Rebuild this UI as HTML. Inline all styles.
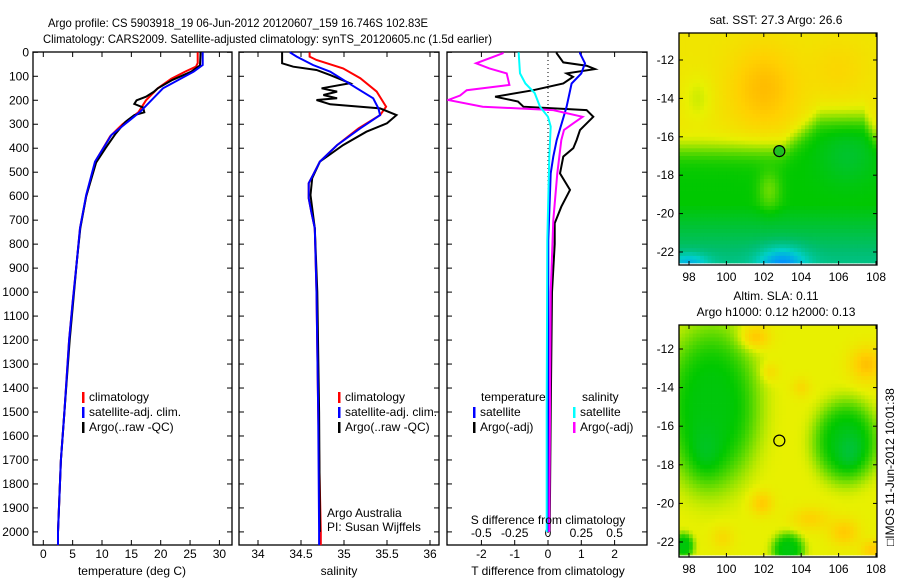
<!DOCTYPE html>
<html><head><meta charset="utf-8"><style>
body{margin:0;background:#fff;}
svg{display:block;font-family:"Liberation Sans",sans-serif;}
text{font-size:12px;fill:#000;}
</style></head><body>
<svg id="fig" width="900" height="580" xmlns="http://www.w3.org/2000/svg">
<rect width="900" height="580" fill="#fff"/>
<text x="48" y="27" font-size="13" textLength="380" lengthAdjust="spacingAndGlyphs">Argo profile: CS 5903918_19 06-Jun-2012 20120607_159 16.746S 102.83E</text>
<text x="43" y="43" font-size="13" textLength="449" lengthAdjust="spacingAndGlyphs">Climatology: CARS2009. Satellite-adjusted climatology: synTS_20120605.nc (1.5d earlier)</text>
<g id="g1"></g>
<g id="g2"></g>
<g id="g3"></g>
<g id="m1"></g>
<g id="m2"></g>
<text x="776" y="24" text-anchor="middle">sat. SST: 27.3 Argo: 26.6</text>
<text x="776" y="300" text-anchor="middle">Altim. SLA: 0.11</text>
<text x="776" y="316" text-anchor="middle">Argo h1000: 0.12 h2000: 0.13</text>
<text transform="translate(894,546) rotate(-90)" x="0" y="0">□IMOS 11-Jun-2012 10:01:38</text>
</svg>
<script>
// ---- data ----
const depthTicks=[0,100,200,300,400,500,600,700,800,900,1000,1100,1200,1300,1400,1500,1600,1700,1800,1900,2000];
const tempTicks=[0,5,10,15,20,25,30];
const salTicks=[34,34.5,35,35.5,36];
const tdiffTicks=[-2,-1,0,1,2];
const sdiffTicks=[-0.5,-0.25,0,0.25,0.5];
const sdiffLabels=["-0.5","-0.25","0","0.25","0.5"];
const lonTicks=[98,100,102,104,106,108];
const latTicks=[-12,-14,-16,-18,-20,-22];
// temperature profiles
const tClimD=[0,45,60,80,110,150,200,250,300,350,450,600,734,873,1040,1200,1500,1700,2000,2055];
const tClimV=[26.3,26.3,26.0,24.2,21.8,19.5,17.5,16.2,13.5,11.4,9.0,7.3,6.25,5.7,5.0,4.4,3.6,3.0,2.5,2.5];
const tSatD=[0,53,81,150,248,345,456,595,734,873,1040,1200,1500,1700,2000,2055];
const tSatV=[27.15,27.15,25.6,20.4,16.5,11.6,8.8,7.3,6.25,5.7,5.0,4.4,3.6,3.0,2.5,2.5];
const tArgoD=[0,55,81,115,150,165,185,200,215,230,250,262,290,340,400,460,600,734,873,1040,1200,1500,1700,2000];
const tArgoV=[26.8,26.7,25.2,22,19.5,18.8,17.5,15.9,15.5,17.0,17.2,15.5,14.0,12.3,10.6,9.0,7.3,6.3,5.7,5.1,4.5,3.6,3.0,2.5];
// salinity profiles
const sClimD=[0,18,32,67,108,164,227,262,317,387,456,512,546,609,665,734,1000,1500,2000,2055];
const sClimV=[34.60,34.60,34.68,34.99,35.19,35.38,35.49,35.42,35.17,34.92,34.72,34.64,34.59,34.59,34.62,34.66,34.68,34.70,34.73,34.73];
const sSatD=[0,18,53,81,150,192,234,262,317,387,456,512,546,609,665,734,1000,1500,2000,2055];
const sSatV=[34.37,34.45,34.64,34.84,35.15,35.34,35.40,35.42,35.19,34.92,34.72,34.64,34.59,34.59,34.62,34.66,34.68,34.70,34.71,34.71];
const sArgoD=[0,46,60,74,95,129,150,164,178,192,199,217,234,262,296,331,387,456,525,595,734,1000,1500,2000];
const sArgoV=[34.28,34.28,34.41,34.68,34.84,35.07,34.74,34.92,34.76,34.92,34.68,34.84,35.42,35.61,35.50,35.26,34.99,34.72,34.63,34.61,34.66,34.69,34.71,34.72];
// differences
const dTSatD=[0,4,46,88,130,227,296,366,435,505,783,1200,2000];
const dTSatV=[0.96,0.96,1.11,1.0,0.71,0.56,0.41,0.26,0.16,0.08,0.01,0.01,0.0];
const dTArgoD=[0,4,42,56,70,88,102,130,158,185,205,227,241,269,324,366,400,435,505,574,644,713,800,1000,1500,2000];
const dTArgoV=[0.26,0.26,0.46,1.16,1.41,0.56,0.75,0.46,-0.44,-1.59,-0.9,-0.74,1.16,1.36,0.96,0.86,0.76,0.46,0.36,0.66,0.4,0.2,0.2,0.12,0.08,0.05];
const dSSatD=[0,4,88,130,170,227,269,310,435,783,1500,2000];
const dSSatV=[-0.22,-0.22,-0.21,-0.17,-0.10,-0.06,0.0,0.02,0.01,-0.005,-0.01,-0.01];
const dSArgoD=[0,4,46,67,88,136,158,180,199,227,241,269,296,324,366,505,700,1000,2000];
const dSArgoV=[-0.34,-0.34,-0.54,-0.44,-0.31,-0.29,-0.61,-0.66,-0.75,-0.49,0.04,0.26,0.19,0.12,0.10,0.07,0.04,0.02,0.01];
// argo location
const argoLon=102.83, argoLat=-16.746;

const NS="http://www.w3.org/2000/svg";
function mk(p,tag,at,txt){const e=document.createElementNS(NS,tag);for(const k in at)e.setAttribute(k,at[k]);if(txt!==undefined)e.textContent=txt;p.appendChild(e);return e;}
const Y0=52.3,YS=0.2398;
const yD=d=>Y0+d*YS;
const TOP=52,BOT=545;

function panel(g,x0,x1,leftLabels){
  const r=mk(g,'rect',{x:x0,y:TOP,width:x1-x0,height:BOT-TOP,fill:'none',stroke:'#000','stroke-width':1.3});
  
  
  depthTicks.forEach(d=>{const y=yD(d);
    mk(g,'line',{x1:x0,x2:x0+5,y1:y,y2:y,stroke:'#000'});
    mk(g,'line',{x1:x1-5,x2:x1,y1:y,y2:y,stroke:'#000'});
    if(leftLabels){const t=mk(g,'text',{x:x0-4,y:y+4,'text-anchor':'end'},String(d));
      
      }
  });
}
function xticks(g,vals,labels,fx,ly){
  vals.forEach((v,i)=>{const x=fx(v);
    mk(g,'line',{x1:x,x2:x,y1:BOT,y2:BOT-5,stroke:'#000'});
    mk(g,'line',{x1:x,x2:x,y1:TOP,y2:TOP+5,stroke:'#000'});
    if(ly!==null){const t=mk(g,'text',{x:x,y:ly,'text-anchor':'middle'},labels[i]);
      
      }
  });
}
function line(g,D,V,fx,col,name,w){
  const pts=D.map((d,i)=>fx(V[i]).toFixed(1)+','+yD(d).toFixed(1)).join(' ');
  const e=mk(g,'polyline',{points:pts,fill:'none',stroke:col,'stroke-width':w||2});
  
  
}
function legend(g,x,y,col,label){
  mk(g,'rect',{x:x,y:y-9,width:2.5,height:11,fill:col});
  const t=mk(g,'text',{x:x+7,y:y},label);
  
  
}
// panel 1
const g1=document.getElementById('g1');
const xT=v=>43.3+v*5.87;
panel(g1,33,232,true);
xticks(g1,tempTicks,tempTicks.map(String),xT,558);
line(g1,tClimD,tClimV,xT,'#f00','temp-climatology-line');
line(g1,tArgoD,tArgoV,xT,'#000','temp-argo-line');
line(g1,tSatD,tSatV,xT,'#00f','temp-satellite-line');
legend(g1,82,401,'#f00','climatology');
legend(g1,82,416,'#00f','satellite-adj. clim.');
legend(g1,82,431,'#000','Argo(..raw -QC)');
let t=mk(g1,'text',{x:132,y:575,'text-anchor':'middle'},'temperature (deg C)');

// panel 2
const g2=document.getElementById('g2');
const xS=v=>258+(v-34)*86;
panel(g2,239,439,false);
xticks(g2,salTicks,salTicks.map(String),xS,558);
line(g2,sClimD,sClimV,xS,'#f00','sal-climatology-line');
line(g2,sArgoD,sArgoV,xS,'#000','sal-argo-line');
line(g2,sSatD,sSatV,xS,'#00f','sal-satellite-line');
legend(g2,338,401,'#f00','climatology');
legend(g2,338,416,'#00f','satellite-adj. clim.');
legend(g2,338,431,'#000','Argo(..raw -QC)');
t=mk(g2,'text',{x:327,y:517},'Argo Australia');
t=mk(g2,'text',{x:327,y:531},'PI: Susan Wijffels');
t=mk(g2,'text',{x:339,y:575,'text-anchor':'middle'},'salinity');
// panel 3
const g3=document.getElementById('g3');
const xDT=v=>548+v*33.3, xDS=v=>548+v*133.2;
panel(g3,447,647,false);
xticks(g3,tdiffTicks,tdiffTicks.map(String),xDT,558);
sdiffTicks.forEach((v,i)=>{const tt=mk(g3,'text',{x:xDS(v),y:537,'text-anchor':'middle'},sdiffLabels[i]);
  
  });
mk(g3,'line',{x1:548,x2:548,y1:TOP,y2:BOT,stroke:'#000','stroke-dasharray':'1,3'});
const cp=mk(g3,'clipPath',{id:'c3'});mk(cp,'rect',{x:447,y:TOP,width:200,height:BOT-TOP});
const g3c=mk(g3,'g',{'clip-path':'url(#c3)'});
line(g3c,dTArgoD,dTArgoV,xDT,'#000','tdiff-argo-line');
line(g3c,dTSatD,dTSatV,xDT,'#00f','tdiff-satellite-line');
line(g3c,dSArgoD,dSArgoV,xDS,'#f0f','sdiff-argo-line');
line(g3c,dSSatD,dSSatV,xDS,'#0ff','sdiff-satellite-line');
t=mk(g3,'text',{x:481,y:401},'temperature');
t=mk(g3,'text',{x:582,y:401},'salinity');
legend(g3,473,416,'#00f','satellite');
legend(g3,473,431,'#000','Argo(-adj)');
legend(g3,573,416,'#0ff','satellite');
legend(g3,573,431,'#f0f','Argo(-adj)');
t=mk(g3,'text',{x:548,y:524,'text-anchor':'middle'},'S difference from climatology');
t=mk(g3,'text',{x:548,y:575,'text-anchor':'middle'},'T difference from climatology');

// ---- maps ----
const stops=[[0,[0,0,160]],[0.2,[0,144,255]],[0.35,[0,208,200]],[0.45,[0,190,112]],[0.55,[0,200,0]],[0.65,[128,224,0]],[0.73,[232,240,0]],[0.82,[255,208,0]],[0.92,[255,160,0]],[1,[255,120,0]]];
function cmap(v){v=Math.max(0,Math.min(1,v));for(let i=1;i<stops.length;i++){if(v<=stops[i][0]){const a=stops[i-1],b=stops[i],f=(v-a[0])/(b[0]-a[0]);return 'rgb('+a[1].map((c,k)=>Math.round(c+(b[1][k]-c)*f)).join(',')+')';}}return 'rgb(255,120,0)';}
const gs=(x,y,cx,cy,rx,ry)=>Math.exp(-(((x-cx)/rx)**2+((y-cy)/ry)**2));
const sg=(x,y,cx,cy,rx,ry)=>Math.exp(-((((x-cx)/rx)**2+((y-cy)/ry)**2)**2));
function sst(lon,lat){
  let b=lon<103?-16.6:lon<105?-16.6+(lon-103)*0.8:-15.0;
  if(lon>107.3)b=-15-(lon-107.3)*1.5;
  let v=0.55+0.21/(1+Math.exp(-(lat-b)/0.35));
  v+=0.1*gs(lon,lat,102,-13.5,1.8,2.2);
  v+=0.04*gs(lon,lat,106,-12.5,1.5,1.5);
  v-=0.05*gs(lon,lat,98.5,-14,0.8,1.2);
  v+=0.08*gs(lon,lat,102.3,-18.8,0.6,1.0);
  if(lat<-19.5)v-=(-19.5-lat)*0.04;
  v-=0.22*gs(lon,lat,103,-22.6,1.2,0.8);
  v-=0.15*gs(lon,lat,98,-22.6,1,0.5);
  v-=0.04*gs(lon,lat,106.5,-17,1.5,1.5);
  return v;
}
function sla(lon,lat){
  let g=Math.max(sg(lon,lat,99.2,-15,2.6,4.3),sg(lon,lat,106.4,-16.8,1.8,2.2),sg(lon,lat,103.3,-22.4,0.9,0.9),sg(lon,lat,97.7,-22.2,0.6,0.7));
  let v=0.73-0.19*g-0.04*gs(lon,lat,98.8,-17.8,1,1.5)-0.04*gs(lon,lat,106.6,-17.3,0.7,1);
  v+=0.12*gs(lon,lat,101.5,-11.4,0.8,0.6)+0.12*gs(lon,lat,107.5,-12.8,0.9,0.9)+0.1*gs(lon,lat,101.9,-20,0.6,0.6)
   +0.08*gs(lon,lat,104.5,-20.8,1,0.6)+0.1*gs(lon,lat,106.3,-21.5,0.8,0.7)+0.1*gs(lon,lat,107.8,-22.4,0.6,0.5)
   +0.06*gs(lon,lat,99.8,-21.8,0.6,0.6)+0.06*gs(lon,lat,102.3,-13.2,0.5,0.5)+0.06*gs(lon,lat,104,-14,0.5,0.5);
  return v;
}
function drawMap(id,x0,y0,x1,y1,lonRef,latY12,latY22,field,fill){
  const g=document.getElementById(id);
  const xL=lon=>689+(lon-98)*18.7;
  const yL=lat=>latY12+(-12-lat)*(latY22-latY12)/10;
  const lonA=(x0-689)/18.7+98, lonB=(x1-689)/18.7+98;
  const latA=-12-(y0-latY12)/((latY22-latY12)/10), latB=-12-(y1-2-latY12)/((latY22-latY12)/10);
  const step=0.2;
  for(let lon=Math.floor(lonA/step)*step;lon<lonB;lon+=step){
    for(let lat=Math.ceil(latA/step)*step;lat>latB;lat-=step){
      const xa=Math.max(x0,xL(lon)),xb=Math.min(x1,xL(lon+step));
      const ya=Math.max(y0,yL(lat)),yb=Math.min(y1-2,yL(lat-step));
      if(xb<=xa||yb<=ya)continue;
      mk(g,'rect',{x:xa.toFixed(2),y:ya.toFixed(2),width:(xb-xa+0.4).toFixed(2),height:(yb-ya+0.4).toFixed(2),fill:cmap(field(lon+step/2,lat-step/2))});
    }
  }
  const fr=mk(g,'rect',{x:x0,y:y0,width:x1-x0,height:y1-y0,fill:'none',stroke:'#000','stroke-width':1.3});
  
  
  lonTicks.forEach(l=>{const x=xL(l);
    mk(g,'line',{x1:x,x2:x,y1:y1,y2:y1-4,stroke:'#000'});
    mk(g,'line',{x1:x,x2:x,y1:y0,y2:y0+4,stroke:'#000'});
    const tt=mk(g,'text',{x:x,y:y1+16,'text-anchor':'middle'},String(l));
    
    });
  latTicks.forEach(l=>{const y=yL(l);
    mk(g,'line',{x1:x0,x2:x0+4,y1:y,y2:y,stroke:'#000'});
    mk(g,'line',{x1:x1,x2:x1-4,y1:y,y2:y,stroke:'#000'});
    const tt=mk(g,'text',{x:x0-5,y:y+4,'text-anchor':'end'},String(l));
    
    });
  const c=mk(g,'circle',{cx:xL(argoLon),cy:yL(argoLat),r:5.5,fill:fill,stroke:'#000','stroke-width':1.2});
  
  
}
drawMap('m1',679,33,877,265,98,60,252,sst,'#20c020');
drawMap('m2',679,325,877,557,98,349,542,sla,'none');
</script>
</body></html>
